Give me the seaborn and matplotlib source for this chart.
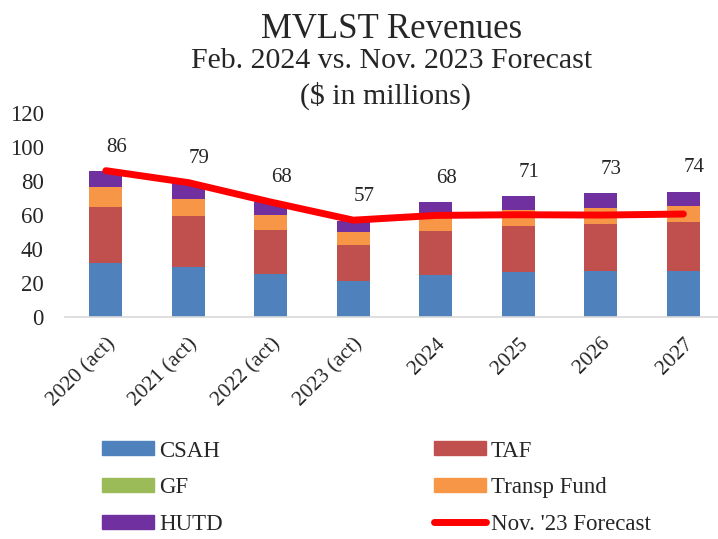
import matplotlib
matplotlib.use('Agg')
import matplotlib.pyplot as plt
import matplotlib.patches as mpatches
import matplotlib.lines as mlines
import numpy as np
import pandas as pd
import seaborn as sns

years = ['2020 (act)', '2021 (act)', '2022 (act)', '2023 (act)', '2024', '2025', '2026', '2027']
csah = [32.2, 29.6, 25.7, 21.1, 25.1, 26.5, 27.3, 27.3]
taf = [32.7, 29.8, 25.8, 21.4, 25.5, 27.1, 27.5, 28.4]
gf = [0, 0, 0, 0, 0, 0, 0, 0]
transp = [11.3, 10.2, 8.7, 7.5, 10.2, 9.1, 9.5, 9.4]
hutd = [9.6, 9.3, 7.7, 6.6, 6.8, 8.3, 8.5, 8.5]
forecast = [86, 79, 67.6, 57, 59.8, 60.2, 60.0, 60.6]

sns.set_style('white')
plt.rcParams['font.family'] = ['Liberation Serif', 'DejaVu Serif']

df = pd.DataFrame({'year': years, 'CSAH': csah, 'TAF': taf, 'GF': gf,
                   'Transp Fund': transp, 'HUTD': hutd})
series = ['CSAH', 'TAF', 'GF', 'Transp Fund', 'HUTD']
colors = {'CSAH': '#4F81BD', 'TAF': '#C0504D', 'GF': '#9BBB59',
          'Transp Fund': '#F79646', 'HUTD': '#7030A0'}
cum = df[series].cumsum(axis=1)

fig = plt.figure(figsize=(7.18, 5.39), dpi=100)
ax = fig.add_axes([0.09, 0.411, 0.91, 0.38])

# stacked bars: draw cumulative totals from top layer down
for s in reversed(series):
    sns.barplot(x=df['year'], y=cum[s], color=colors[s], width=0.4,
                saturation=1, ax=ax, edgecolor='none')

xs = np.arange(len(years))
sns.lineplot(x=xs, y=forecast, color='#FF0000', linewidth=5, ax=ax,
             solid_capstyle='round')

totals = cum['HUTD']
for i, t in enumerate(totals):
    ax.text(i + 0.13, t + 14, f'{t:.0f}', ha='center', va='center', fontsize=15)

ax.set_ylim(0, 120)
ax.set_xlim(-0.5, 7.42)
ax.set_yticks(range(0, 121, 20))
ax.set_xlabel('')
ax.set_ylabel('')
ax.tick_params(axis='y', labelsize=16.5, length=0, pad=15)
ax.tick_params(axis='x', labelsize=15.5, length=0, pad=12)
plt.setp(ax.get_xticklabels(), rotation=45, ha='right', rotation_mode='anchor')
for sp in ['top', 'right', 'left']:
    ax.spines[sp].set_visible(False)
ax.spines['bottom'].set_color('#D9D9D9')
ax.spines['bottom'].set_linewidth(1.2)

fig.text(0.545, 0.9295, 'MVLST Revenues', ha='center', va='baseline', fontsize=25)
fig.text(0.545, 0.874, 'Feb. 2024 vs. Nov. 2023 Forecast', ha='center', va='baseline', fontsize=21.5)
fig.text(0.537, 0.807, '($ in millions)', ha='center', va='baseline', fontsize=21.5)

handles = [mpatches.Patch(color=colors['CSAH'], label='CSAH'),
           mpatches.Patch(color=colors['GF'], label='GF'),
           mpatches.Patch(color=colors['HUTD'], label='HUTD'),
           mpatches.Patch(color=colors['TAF'], label='TAF'),
           mpatches.Patch(color=colors['Transp Fund'], label='Transp Fund'),
           mlines.Line2D([], [], color='#FF0000', linewidth=5,
                         solid_capstyle='round', label="Nov. '23 Forecast")]
fig.legend(handles=handles, ncol=2, loc='upper left', bbox_to_anchor=(0.114, 0.221),
           frameon=False, fontsize=16.5, handlelength=2.27, handleheight=0.57,
           handletextpad=0.22, columnspacing=9.2, labelspacing=0.68)

fig.savefig('out.png', dpi=100)
